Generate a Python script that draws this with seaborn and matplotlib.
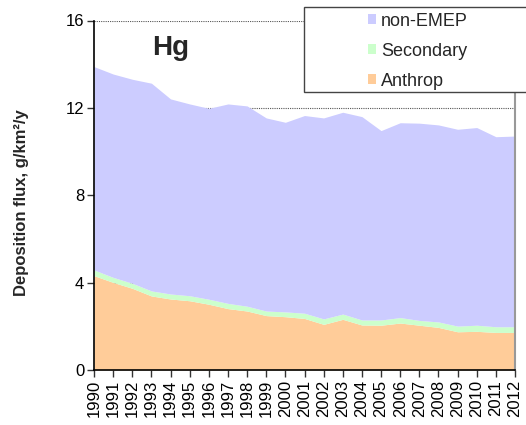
import matplotlib
matplotlib.use("Agg")
import matplotlib.pyplot as plt
from matplotlib.patches import Rectangle, Patch
import seaborn as sns
import numpy as np

# Annual mean Hg deposition flux by source, g/km2/y
years = list(range(1990, 2013))
anthrop = [4.32, 4.01, 3.74, 3.39, 3.25, 3.17, 3.01, 2.81, 2.70, 2.49, 2.44, 2.36,
           2.09, 2.32, 2.06, 2.05, 2.15, 2.05, 1.95, 1.75, 1.77, 1.72, 1.72]
secondary = [0.26, 0.23, 0.23, 0.23, 0.23, 0.23, 0.23, 0.24, 0.22, 0.21, 0.22, 0.24,
             0.25, 0.24, 0.23, 0.24, 0.25, 0.22, 0.25, 0.26, 0.28, 0.26, 0.26]
non_emep = [9.31, 9.31, 9.34, 9.51, 8.93, 8.78, 8.74, 9.13, 9.17, 8.84, 8.68, 9.05,
            9.20, 9.24, 9.31, 8.67, 8.92, 9.03, 9.02, 9.01, 9.05, 8.70, 8.73]

series_names = ["Anthrop", "Secondary", "non-EMEP"]
series_colors = ["#FFCC99", "#CCFFCC", "#CCCCFF"]
y_ticks = [0, 4, 8, 12, 16]

sns.set_theme(style="ticks")
plt.rcParams["font.family"] = ["Liberation Sans", "DejaVu Sans"]

fig = plt.figure(figsize=(5.26, 4.25), dpi=100)
ax = fig.add_axes([94 / 526, 1 - 370 / 425, 421 / 526, 349.5 / 425])

ax.stackplot(years, anthrop, secondary, non_emep,
             colors=series_colors, linewidth=0, zorder=2)

ax.set_xlim(years[0], years[-1])
ax.set_ylim(0, 16)
ax.set_xticks(years)
ax.set_xticklabels([str(y) for y in years], rotation=90, fontsize=12)
ax.set_yticks(y_ticks)
ax.set_yticklabels([str(t) for t in y_ticks], fontsize=12)
ax.tick_params(axis="both", direction="out", length=5, width=1, color="#333333",
               pad=2, labelcolor="black")

ax.yaxis.grid(True, linestyle=(0, (1, 1)), color="#555555", linewidth=0.8, zorder=1)
ax.set_axisbelow(True)

for side in ("left", "bottom"):
    ax.spines[side].set_color("black")
    ax.spines[side].set_linewidth(1.2)
    ax.spines[side].set_zorder(4)
ax.spines["top"].set_visible(False)
ax.spines["right"].set_color("#999999")
ax.spines["right"].set_linewidth(1.5)
ax.spines["right"].set_zorder(3)

ax.set_ylabel("Deposition flux, g/km²/y", fontsize=12, fontweight="bold")
ax.yaxis.set_label_coords(-0.155, 0.48)

ax.text(0.138, 0.90, "Hg", transform=ax.transAxes, fontsize=20, fontweight="bold",
        va="baseline", ha="left", zorder=5)

# Legend box, running past the right edge of the figure
fig.patches.append(Rectangle((304 / 526, 1 - 92 / 425), 240 / 526, 85 / 425,
                             transform=fig.transFigure, facecolor="white",
                             edgecolor="#444444", linewidth=1.0, zorder=4))
handles = [Patch(facecolor=c, edgecolor="none", label=n)
           for n, c in zip(series_names[::-1], series_colors[::-1])]
leg = fig.legend(handles=handles, loc="upper left",
                 bbox_to_anchor=(364 / 526, 1 - 9 / 425), frameon=False, fontsize=13,
                 handlelength=0.45, handleheight=0.45, handletextpad=0.3,
                 labelspacing=0.72, borderaxespad=0, borderpad=0.2)
leg.set_zorder(6)

fig.savefig("out.png", dpi=100)
